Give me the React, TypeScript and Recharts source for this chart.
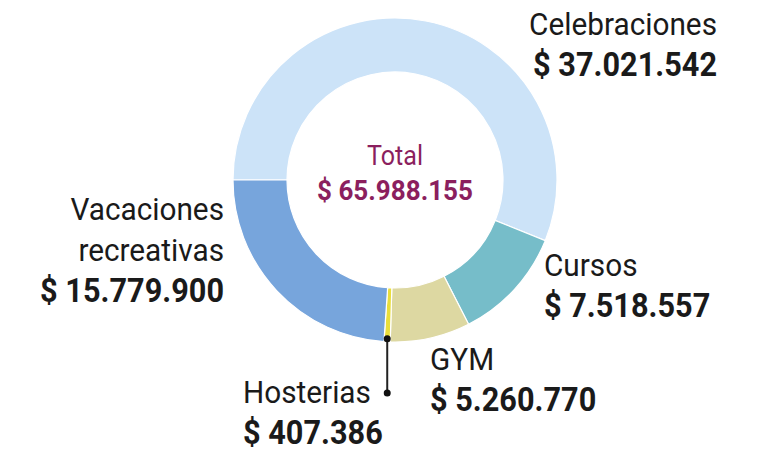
import { Cell, Pie, PieChart } from "recharts";

const categories = ["Celebraciones", "Cursos", "GYM", "Hosterias", "Vacaciones recreativas"];
const amounts = [37021542, 7518557, 5260770, 407386, 15779900];
const labelLines = [["Celebraciones"], ["Cursos"], ["GYM"], ["Hosterias"], ["Vacaciones", "recreativas"]];
const colors = ["#cce3f8", "#76bdc9", "#ddd8a2", "#e9de3c", "#77a5dc"];

// where each label sits, relative to the pie centre
const labelPlacement = [
  { dx: 322, dy: -145, anchor: "end" },
  { dx: 149, dy: 96, anchor: "start" },
  { dx: 35, dy: 190, anchor: "start" },
  { dx: -152, dy: 223, anchor: "start", leader: true },
  { dx: -171, dy: 40, anchor: "end" },
];

const data = categories.map((name, i) => ({ name, value: amounts[i] }));
const total = amounts.reduce((a, b) => a + b, 0);

const fmt = (n: number) => "$ " + String(n).replace(/\B(?=(\d{3})+(?!\d))/g, ".");

const FONT = "Roboto, sans-serif";
const LINE = 41;
const SQUEEZE = 0.93; // the original uses a condensed face

const Txt = ({ x, y, anchor, size, bold, color, children }: any) => (
  <text
    transform={`translate(${x},${y}) scale(${SQUEEZE},1)`}
    textAnchor={anchor}
    fontFamily={FONT}
    fontSize={size}
    fontWeight={bold ? 700 : 400}
    fill={color}
  >
    {children}
  </text>
);

const renderLabel = (props: any) => {
  const { cx, cy, midAngle, outerRadius, index } = props;
  const p = labelPlacement[index];
  const lines = labelLines[index];
  const x = cx + p.dx;
  const y = cy + p.dy;
  const rad = Math.PI / 180;
  const lx = cx + (outerRadius - 3) * Math.cos(-midAngle * rad);
  const ly = cy + (outerRadius - 3) * Math.sin(-midAngle * rad);
  return (
    <g key={`lbl-${index}`}>
      {index === 0 && (
        <g>
          <Txt x={cx} y={cy - 15} anchor="middle" size={27} color="#8b1f5e">
            Total
          </Txt>
          <Txt x={cx} y={cy + 20} anchor="middle" size={28} bold color="#8b1f5e">
            {fmt(total)}
          </Txt>
        </g>
      )}
      {p.leader && (
        <g>
          <line x1={lx} y1={ly} x2={lx} y2={y - 10} stroke="#222" strokeWidth={2} />
          <circle cx={lx} cy={ly} r={3.5} fill="#111" />
          <circle cx={lx} cy={y - 10} r={3.5} fill="#111" />
        </g>
      )}
      {lines.map((t, k) => (
        <Txt key={k} x={x} y={y + k * LINE} anchor={p.anchor} size={32} color="#1a1a1a">
          {t}
        </Txt>
      ))}
      <Txt x={x} y={y + lines.length * LINE} anchor={p.anchor} size={33} bold color="#1a1a1a">
        {fmt(amounts[index])}
      </Txt>
    </g>
  );
};

export default function App() {
  return (
    <div style={{ position: "absolute", left: 0, top: 0, background: "#fff" }}>
      <PieChart width={761} height={453} margin={{ top: 0, right: 0, bottom: 0, left: 0 }}>
        <Pie
          data={data}
          dataKey="value"
          nameKey="name"
          cx={395}
          cy={180}
          innerRadius={108}
          outerRadius={162}
          startAngle={180}
          endAngle={-180}
          stroke="#fff"
          strokeWidth={1.2}
          label={renderLabel}
          labelLine={false}
          isAnimationActive={false}
        >
          {data.map((d, i) => (
            <Cell key={d.name} fill={colors[i]} />
          ))}
        </Pie>
      </PieChart>
    </div>
  );
}
